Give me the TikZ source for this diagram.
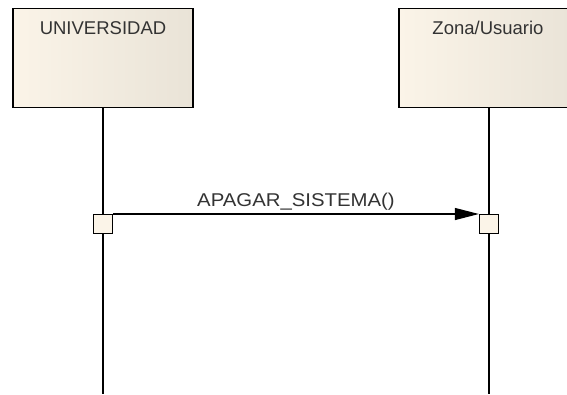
\documentclass[tikz,border=0pt]{standalone}
\usepackage{fontspec}
\setmainfont{Liberation Sans}
\usetikzlibrary{positioning, arrows.meta, calc}
\definecolor{boxleft}{RGB}{251,244,232}
\definecolor{boxright}{RGB}{233,227,215}
\tikzset{
	>={Triangle[length=24pt, width=12pt]},
	x=1pt, y=-1pt,
	lifebox/.style={draw, line width=1.3pt, left color=boxleft, right color=boxright, minimum width=180pt, minimum height=99pt, anchor=north, inner sep=0pt},
	lifetitle/.style={font=\fontsize{18.5}{20}\selectfont, text=black!80},
	actbox/.style={draw, line width=1.3pt, fill=boxleft, minimum width=19pt, minimum height=19pt, inner sep=0pt, anchor=north},
	lifeline/.style={line width=1.2pt, black},
}

\begin{document}
\begin{tikzpicture}
			
			\useasboundingbox (0,0) rectangle (567,394);
			\clip (0,0) rectangle (567,394);
			
			\node[lifebox] (UNI) at (103,8) {};
			\node[lifebox] (ZONA) at (489,8) {};
			\node[lifetitle, below=10pt of UNI.north] (UNItitle) {UNIVERSIDAD};
			\node[lifetitle, below=10pt of ZONA.north, xshift=-1pt] (ZONAtitle) {Zona/Usuario};
			
			\coordinate (UNIend) at (103,394);
			\coordinate (ZONAend) at (489,394);
			\draw[lifeline] (UNI.south) -- (UNIend);
			\draw[lifeline] (ZONA.south) -- (ZONAend);
			
			\node[actbox] (UNIact) at (103,214) {};
			\node[actbox] (ZONAact) at (489,214) {};
			
			\draw[->, line width=1.2pt] (UNIact.north east) -- node[above=0pt, lifetitle, xscale=1.1]{APAGAR\_SISTEMA()} (ZONAact.north west);
						
		\end{tikzpicture}
\end{document}
